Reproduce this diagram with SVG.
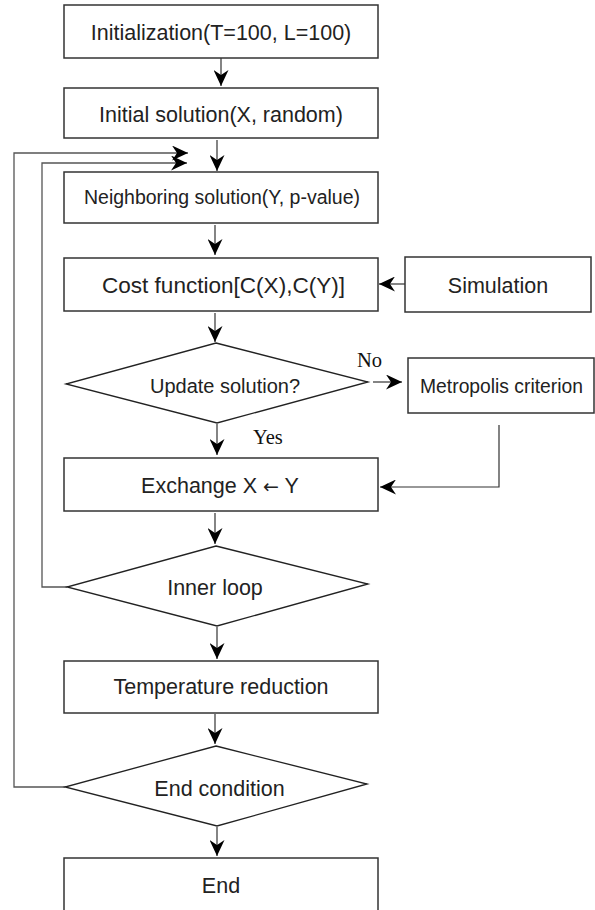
<svg xmlns="http://www.w3.org/2000/svg" width="595" height="910" viewBox="0 0 595 910">
<style>
  .box { fill: #ffffff; stroke: #333333; stroke-width: 1.5; }
  .dia { fill: #ffffff; stroke: #222222; stroke-width: 1.3; }
  .lbl { font-family: "Liberation Sans", Arial, sans-serif; font-size: 21.5px; fill: #222222; text-anchor: middle; }
  .sm { font-size: 19.5px; }
  .yn { font-family: "Liberation Serif", "Times New Roman", serif; font-size: 20.5px; fill: #111111; }
  .con { fill: none; stroke: #333333; stroke-width: 1.2; }
  .loop { fill: none; stroke: #555555; stroke-width: 1.3; }
</style>
<defs>
  <marker id="ah" markerUnits="userSpaceOnUse" markerWidth="16" markerHeight="15" refX="16" refY="7.5" orient="auto">
    <path d="M0,0 L16,7.5 L0,15 L5,7.5 Z" fill="#000000"/>
  </marker>
</defs>
<rect width="595" height="910" fill="#ffffff"/>

<g id="connectors">
  <line class="con" x1="221" y1="58" x2="221" y2="86" marker-end="url(#ah)"/>
  <line class="con" x1="217" y1="140" x2="217" y2="171" marker-end="url(#ah)"/>
  <line class="con" x1="215" y1="225" x2="215" y2="255" marker-end="url(#ah)"/>
  <line class="con" x1="405" y1="284" x2="379" y2="284" marker-end="url(#ah)"/>
  <line class="con" x1="215" y1="313" x2="215" y2="342" marker-end="url(#ah)"/>
  <line class="con" x1="373" y1="382" x2="402" y2="382" marker-end="url(#ah)"/>
  <line class="con" x1="217" y1="424" x2="217" y2="455" marker-end="url(#ah)"/>
  <polyline class="con" points="499,425 499,487 380,487" marker-end="url(#ah)"/>
  <line class="con" x1="215" y1="513" x2="215" y2="544" marker-end="url(#ah)"/>
  <line class="con" x1="217" y1="627" x2="217" y2="659" marker-end="url(#ah)"/>
  <line class="con" x1="215" y1="714" x2="215" y2="744" marker-end="url(#ah)"/>
  <line class="con" x1="217" y1="827" x2="217" y2="856" marker-end="url(#ah)"/>
  <polyline class="loop" points="67,587 42,587 42,163 187,163" marker-end="url(#ah)"/>
  <polyline class="loop" points="65,787 14,787 14,153 188,153" marker-end="url(#ah)"/>
  <text class="yn" x="357" y="367">No</text>
  <text class="yn" x="253" y="444">Yes</text>
</g>

<g id="init">
  <rect class="box" x="64" y="5" width="314" height="53"/>
  <text class="lbl" x="221" y="40">Initialization(T=100, L=100)</text>
</g>
<g id="initial-solution">
  <rect class="box" x="64" y="88" width="314" height="50"/>
  <text class="lbl" x="221" y="121.5">Initial solution(X, random)</text>
</g>
<g id="neighboring">
  <rect class="box" x="64" y="172" width="314" height="51"/>
  <text class="lbl sm" x="222" y="204">Neighboring solution(Y, p-value)</text>
</g>
<g id="cost">
  <rect class="box" x="64" y="258" width="314" height="53"/>
  <text class="lbl" x="223.5" y="293" textLength="243" lengthAdjust="spacingAndGlyphs">Cost function[C(X),C(Y)]</text>
</g>
<g id="simulation">
  <rect class="box" x="405" y="257" width="186" height="55"/>
  <text class="lbl" x="498" y="293">Simulation</text>
</g>
<g id="update">
  <polygon class="dia" points="216,343 368,382 217,423 66,384"/>
  <text class="lbl" x="225" y="393" style="font-size:20px">Update solution?</text>
</g>
<g id="metropolis">
  <rect class="box" x="408" y="358" width="186" height="55"/>
  <text class="lbl" x="501.5" y="393" style="font-size:19.3px">Metropolis criterion</text>
</g>
<g id="exchange">
  <rect class="box" x="64" y="458" width="314" height="53"/>
  <text class="lbl" x="220" y="492.5">Exchange X <tspan style="font-family:'DejaVu Sans', sans-serif; font-size:19px">←</tspan> Y</text>
</g>
<g id="inner-loop">
  <polygon class="dia" points="216,546 368,584 217,626 67,587"/>
  <text class="lbl" x="215" y="595">Inner loop</text>
</g>
<g id="temperature">
  <rect class="box" x="64" y="661" width="314" height="52"/>
  <text class="lbl" x="221" y="694">Temperature reduction</text>
</g>
<g id="end-condition">
  <polygon class="dia" points="216,746 367,784 217,826 65,787"/>
  <text class="lbl" x="219.5" y="796">End condition</text>
</g>
<g id="end">
  <rect class="box" x="64" y="858" width="314" height="70"/>
  <text class="lbl" x="221" y="893">End</text>
</g>
</svg>
